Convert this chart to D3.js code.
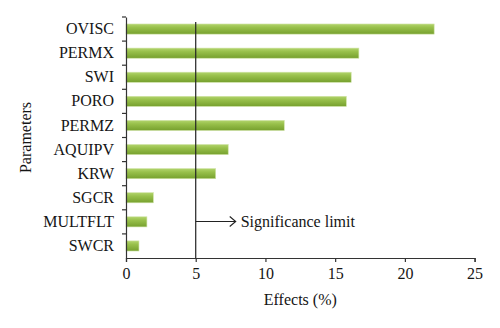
<!DOCTYPE html>
<html>
<head>
<meta charset="utf-8">
<script src="https://cdn.jsdelivr.net/npm/d3@7"></script>
<style>
  body { margin: 0; background: #fff; }
  svg text { font-family: "Liberation Serif", "DejaVu Serif", serif; fill: #151515; }
</style>
</head>
<body>
<svg id="chart" width="500" height="328"></svg>
<script>
// parameters, top to bottom
var params = ["OVISC", "PERMX", "SWI", "PORO", "PERMZ", "AQUIPV", "KRW", "SGCR", "MULTFLT", "SWCR"];
// effects in %
var effects = [22.1, 16.7, 16.15, 15.8, 11.35, 7.33, 6.43, 1.96, 1.5, 0.93];
var xTicks = [0, 5, 10, 15, 20, 25];
var limit = 5;

var svg = d3.select("#chart"),
    margin = {left: 126, top: 17},
    width = 348.6,
    height = 241;

var defs = svg.append("defs");
var grad = defs.append("linearGradient")
    .attr("id", "barGrad")
    .attr("x1", 0).attr("y1", 0).attr("x2", 0).attr("y2", 1);
grad.append("stop").attr("offset", "0%").attr("stop-color", "#b2d46c");
grad.append("stop").attr("offset", "35%").attr("stop-color", "#98c04b");
grad.append("stop").attr("offset", "100%").attr("stop-color", "#76a02e");

var xScale = d3.scaleLinear().domain([0, 25]).range([0, width]),
    yScale = d3.scaleBand().domain(params).range([0, height]).padding(0);

var g = svg.append("g")
    .attr("transform", "translate(" + margin.left + "," + margin.top + ")");

// bars
var bh = yScale.bandwidth() * 0.42;
g.selectAll(".bar")
    .data(params)
    .enter().append("rect")
    .attr("class", "bar")
    .attr("x", xScale(0))
    .attr("y", function(d) { return yScale(d) + (yScale.bandwidth() - bh) / 2; })
    .attr("width", function(d, i) { return xScale(effects[i]) - xScale(0); })
    .attr("height", bh)
    .attr("fill", "url(#barGrad)")
    .attr("stroke", "#cfe3a6")
    .attr("stroke-width", 0.6);

// significance limit
g.append("line")
    .attr("x1", xScale(limit)).attr("x2", xScale(limit))
    .attr("y1", 5).attr("y2", height)
    .attr("stroke", "#222").attr("stroke-width", 1.2);

var ay = 204.5;
g.append("line")
    .attr("x1", xScale(limit)).attr("x2", xScale(limit) + 40)
    .attr("y1", ay).attr("y2", ay)
    .attr("stroke", "#222").attr("stroke-width", 1.1);
g.append("path")
    .attr("d", "M" + (xScale(limit) + 34) + "," + (ay - 5) + "L" + (xScale(limit) + 40) + "," + ay + "L" + (xScale(limit) + 34) + "," + (ay + 5))
    .attr("fill", "none").attr("stroke", "#222").attr("stroke-width", 1.1);
g.append("text")
    .attr("x", xScale(limit) + 45)
    .attr("y", ay + 5.5)
    .attr("font-size", "16px")
    .text("Significance limit");

// x axis
var xAxis = g.append("g")
    .attr("transform", "translate(0," + height + ")")
    .call(d3.axisBottom(xScale).tickValues(xTicks).tickSize(4).tickPadding(6));
xAxis.selectAll("text").attr("font-size", "16px").attr("font-family", null);
xAxis.selectAll("path, line").attr("stroke", "#333").attr("stroke-width", 1.2);

g.append("text")
    .attr("x", width / 2)
    .attr("y", height + 47)
    .attr("text-anchor", "middle")
    .attr("font-size", "16px")
    .text("Effects (%)");

// y axis, ticks at the band edges
var yAxis = g.append("g")
    .call(d3.axisLeft(yScale).tickSize(0).tickSizeOuter(0).tickPadding(12));
yAxis.selectAll("text").attr("font-size", "16px").attr("font-family", null);
yAxis.select(".domain").attr("stroke", "#333").attr("stroke-width", 1.2);

g.selectAll(".ytick")
    .data(params)
    .enter().append("line")
    .attr("class", "ytick")
    .attr("x1", -4).attr("x2", 0)
    .attr("y1", function(d) { return yScale(d); })
    .attr("y2", function(d) { return yScale(d); })
    .attr("stroke", "#333").attr("stroke-width", 1.2);

g.append("text")
    .attr("transform", "translate(" + (31 - margin.left) + "," + (height / 2) + ") rotate(-90)")
    .attr("text-anchor", "middle")
    .attr("font-size", "16px")
    .text("Parameters");
</script>
</body>
</html>
